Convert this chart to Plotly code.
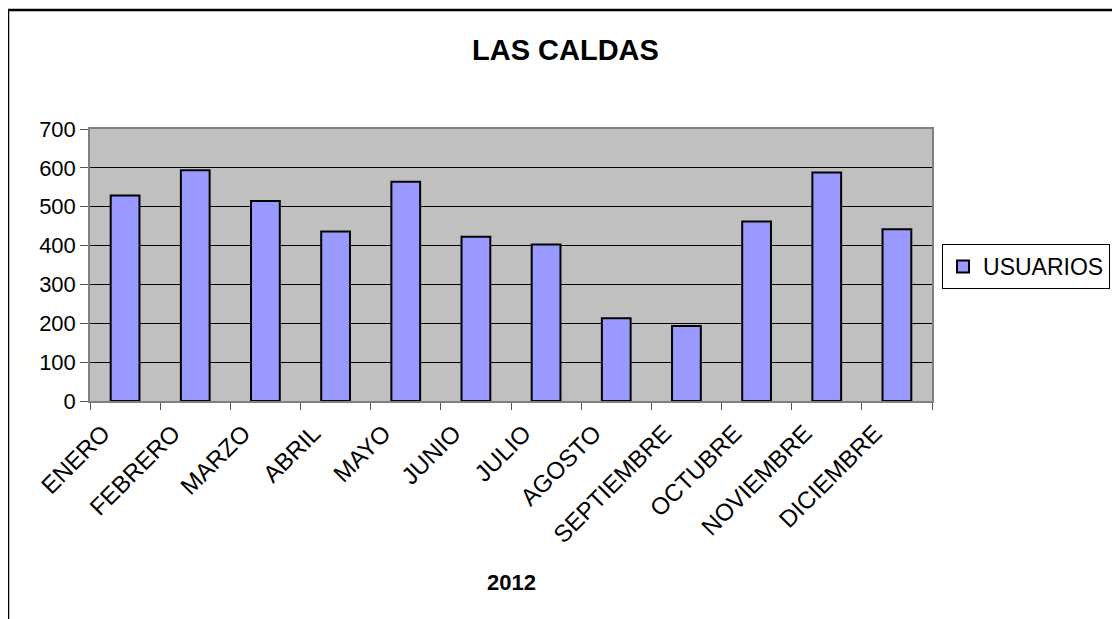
import plotly.graph_objects as go

meses = ['ENERO', 'FEBRERO', 'MARZO', 'ABRIL', 'MAYO', 'JUNIO', 'JULIO',
         'AGOSTO', 'SEPTIEMBRE', 'OCTUBRE', 'NOVIEMBRE', 'DICIEMBRE']
usuarios = [529, 594, 515, 436, 564, 423, 403, 213, 193, 462, 588, 442]
y_ticks = [0, 100, 200, 300, 400, 500, 600, 700]

fnt = 'Liberation Sans, Arial, sans-serif'

fig = go.Figure()
fig.add_trace(go.Bar(
    x=meses, y=usuarios, name='USUARIOS',
    marker=dict(color='#9999FF', line=dict(color='black', width=2)),
))

# page body has an 8px margin, so everything is shifted by 8px
fig.update_layout(
    width=1120, height=611,
    margin=dict(l=82, r=196, t=121, b=218),
    paper_bgcolor='white', plot_bgcolor='#C0C0C0',
    font=dict(family=fnt, size=22, color='black'),
    bargap=0.59,
    showlegend=True,
    legend=dict(x=1.0119, y=0.577, xanchor='left', yanchor='top',
                bgcolor='white', bordercolor='black', borderwidth=1,
                font=dict(size=23), itemwidth=30),
)

fig.update_xaxes(
    type='category', tickangle=-45, tickson='boundaries',
    ticks='outside', ticklen=7, tickcolor='#555555',
    showline=True, linecolor='#808080', linewidth=1.5, mirror=True,
    showgrid=False, tickfont=dict(size=24),
    ticklabelshift=-22, ticklabelstandoff=7,
)
fig.update_yaxes(
    range=[0, 700], tickvals=y_ticks, ticks='outside', ticklen=8,
    tickcolor='#555555',
    showline=True, linecolor='#808080', linewidth=1.5, mirror=True,
    showgrid=True, gridcolor='black', gridwidth=1,
    zeroline=False, tickfont=dict(size=22),
)

# title and axis label
fig.add_annotation(text='<b>LAS CALDAS</b>', xref='paper', yref='paper',
                   x=0.565, y=1.29, showarrow=False, font=dict(size=29),
                   xanchor='center', yanchor='middle')
fig.add_annotation(text='<b>2012</b>', xref='paper', yref='paper',
                   x=0.5, y=-0.669, showarrow=False, font=dict(size=22),
                   xanchor='center', yanchor='middle')

# outer chart frame (extends beyond the visible window)
fig.add_shape(type='rect', xref='paper', yref='paper',
              x0=-0.0974, y0=-1.0, x1=1.5, y1=1.4375,
              line=dict(color='black', width=2.5), layer='below')

fig.write_html('out.html')
